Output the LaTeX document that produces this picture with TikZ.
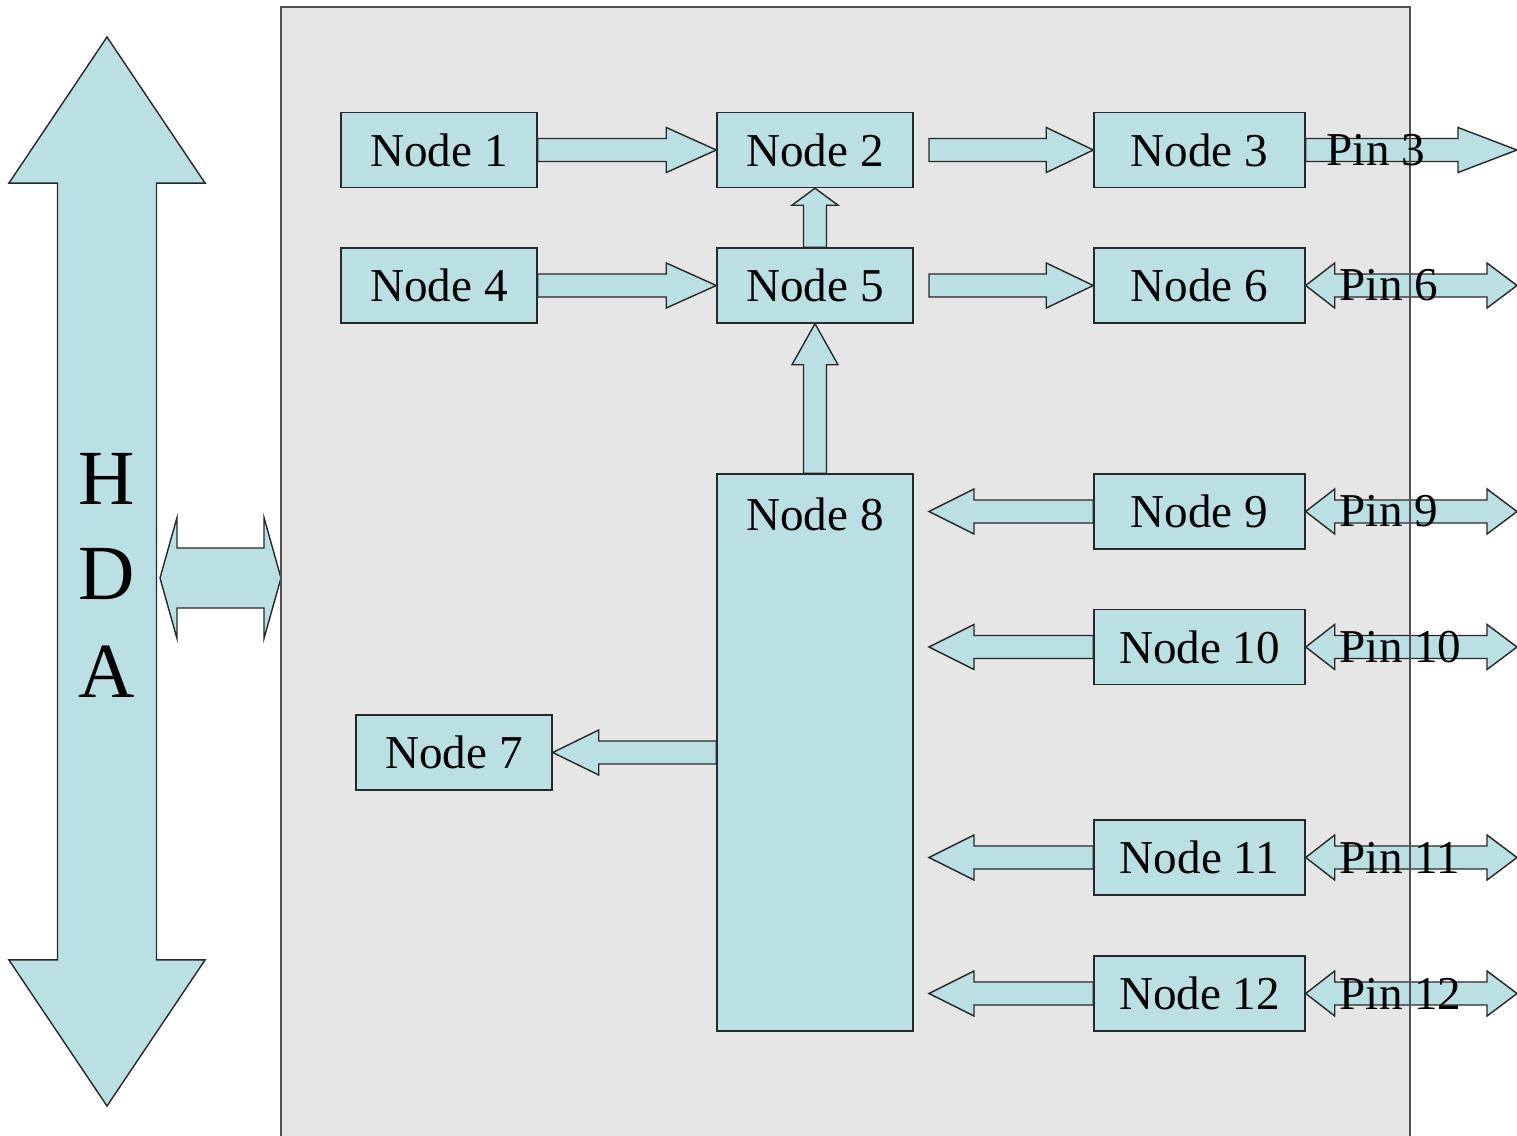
\documentclass[tikz,border=0pt]{standalone}
\usepackage{fontspec}
\setmainfont{Liberation Serif}
\usetikzlibrary{calc}
\definecolor{cyanfill}{RGB}{186,224,228}
\definecolor{panelgray}{RGB}{230,230,230}
\definecolor{edge}{RGB}{40,40,40}
\newcommand\pxu{0.28453pt}
% single block arrow: from, to, shaft half width, head half width, head length
\newcommand\SArrow[5]{%
 \draw[blk] let \p1=(#1), \p2=(#2), \n1={veclen(\x2-\x1,\y2-\y1)}, \n2={atan2(\y2-\y1,\x2-\x1)} in
  ([shift={(\p1)},rotate=\n2]0pt,{#3*\pxu})
  -- ([shift={(\p1)},rotate=\n2]{\n1-#5*\pxu},{#3*\pxu})
  -- ([shift={(\p1)},rotate=\n2]{\n1-#5*\pxu},{#4*\pxu})
  -- ([shift={(\p1)},rotate=\n2]{\n1},0pt)
  -- ([shift={(\p1)},rotate=\n2]{\n1-#5*\pxu},{-#4*\pxu})
  -- ([shift={(\p1)},rotate=\n2]{\n1-#5*\pxu},{-#3*\pxu})
  -- ([shift={(\p1)},rotate=\n2]0pt,{-#3*\pxu}) -- cycle;}
% double block arrow: from, to, shaft half, head half, head length at to, head length at from
\newcommand\DArrow[6]{%
 \draw[blk] let \p1=(#1), \p2=(#2), \n1={veclen(\x2-\x1,\y2-\y1)}, \n2={atan2(\y2-\y1,\x2-\x1)} in
  ([shift={(\p1)},rotate=\n2]0pt,0pt)
  -- ([shift={(\p1)},rotate=\n2]{#6*\pxu},{#4*\pxu})
  -- ([shift={(\p1)},rotate=\n2]{#6*\pxu},{#3*\pxu})
  -- ([shift={(\p1)},rotate=\n2]{\n1-#5*\pxu},{#3*\pxu})
  -- ([shift={(\p1)},rotate=\n2]{\n1-#5*\pxu},{#4*\pxu})
  -- ([shift={(\p1)},rotate=\n2]{\n1},0pt)
  -- ([shift={(\p1)},rotate=\n2]{\n1-#5*\pxu},{-#4*\pxu})
  -- ([shift={(\p1)},rotate=\n2]{\n1-#5*\pxu},{-#3*\pxu})
  -- ([shift={(\p1)},rotate=\n2]{#6*\pxu},{-#3*\pxu})
  -- ([shift={(\p1)},rotate=\n2]{#6*\pxu},{-#4*\pxu}) -- cycle;}
\begin{document}
\begin{tikzpicture}[x=0.01cm,y=-0.01cm,
  blk/.style={fill=cyanfill,draw=edge,line width=0.4pt,line join=miter},
  box/.style={draw=edge,fill=cyanfill,line width=0.4pt,inner sep=0pt,minimum height=75*0.01cm,
     font=\fontsize{13.4}{16}\selectfont},
  boxa/.style={box,minimum width=196*0.01cm},
  boxb/.style={box,minimum width=211*0.01cm},
  pinlbl/.style={anchor=west,inner sep=0pt,font=\fontsize{13.4}{16}\selectfont},
  big/.style={anchor=base,inner sep=0pt,font=\fontsize{22.2}{26}\selectfont}]
\useasboundingbox (0,0) rectangle (1517,1136);
% panel background
\fill[panelgray] (281,7) rectangle (1410,1150);
% coordinates
\coordinate (gapx) at (929,0);
\coordinate (pinx) at (1517,0);
\coordinate (hdaTop) at (107,37);
\coordinate (hdaBot) at (107,1106);
\coordinate (busL) at (160,578);
\coordinate (busR) at (281,578);
% boxes
\node[boxa] (n1) at (439,150) {Node 1};
\node[boxa] (n2) at (815,150) {Node 2};
\node[boxb] (n3) at (1199.5,150) {Node 3};
\node[boxa] (n4) at (439,285.5) {Node 4};
\node[boxa] (n5) at (815,285.5) {Node 5};
\node[boxb] (n6) at (1199.5,285.5) {Node 6};
\node[boxa] (n7) at (454,752.5) {Node 7};
\node[boxa,minimum height=557*0.01cm] (n8) at (815,752.5) {};
\node[inner sep=0pt,font=\fontsize{13.4}{16}\selectfont] (n8t) at (815,514) {Node 8};
\node[boxb] (n9) at (1199.5,511.5) {Node 9};
\node[boxb] (n10) at (1199.5,647) {Node 10};
\node[boxb] (n11) at (1199.5,857.5) {Node 11};
\node[boxb] (n12) at (1199.5,993.5) {Node 12};
% HDA bus arrow
\DArrow{hdaBot}{hdaTop}{49.5}{98}{146}{146}
\node[big] (hH) at (107,504) {H};
\node[big] (hD) at (107,599) {D};
\node[big] (hA) at (107,697) {A};
\DArrow{busL}{busR}{30}{60.5}{17}{17}
% internal arrows
\SArrow{n1.east}{n2.west}{11.5}{22.5}{50}
\SArrow{n2 -| gapx}{n3.west}{11.5}{22.5}{47}
\SArrow{n4.east}{n5.west}{11.5}{22.5}{50}
\SArrow{n5 -| gapx}{n6.west}{11.5}{22.5}{47}
\SArrow{n5.north}{n2.south}{11.5}{23}{17}
\SArrow{n8.north}{n5.south}{11.5}{23}{41}
\SArrow{n7 -| n8.west}{n7.east}{11.5}{22.5}{46}
\SArrow{n9.west}{n9 -| gapx}{11.5}{22.5}{45}
\SArrow{n10.west}{n10 -| gapx}{11.5}{22.5}{45}
\SArrow{n11.west}{n11 -| gapx}{11.5}{22.5}{45}
\SArrow{n12.west}{n12 -| gapx}{11.5}{22.5}{45}
% pin arrows
\SArrow{n3.east}{n3 -| pinx}{11.5}{22.5}{59}
\DArrow{n6.east}{n6 -| pinx}{11.5}{22.5}{30}{29}
\DArrow{n9.east}{n9 -| pinx}{11.5}{22.5}{30}{29}
\DArrow{n10.east}{n10 -| pinx}{11.5}{22.5}{30}{29}
\DArrow{n11.east}{n11 -| pinx}{11.5}{22.5}{30}{29}
\DArrow{n12.east}{n12 -| pinx}{11.5}{22.5}{30}{29}
% panel border on top
\draw[draw={rgb,255:red,80;green,80;blue,80},line width=0.45pt] (281,1150) -- (281,7) -- (1410,7) -- (1410,1150);
% pin labels
\node[pinlbl] (pin3) at (1326,150) {Pin 3};
\node[pinlbl] (pin6) at (1339,285.5) {Pin 6};
\node[pinlbl] (pin9) at (1339,511.5) {Pin 9};
\node[pinlbl] (pin10) at (1339,647) {Pin 10};
\node[pinlbl] (pin11) at (1339,857.5) {Pin 11};
\node[pinlbl] (pin12) at (1339,993.5) {Pin 12};
\end{tikzpicture}
\end{document}
